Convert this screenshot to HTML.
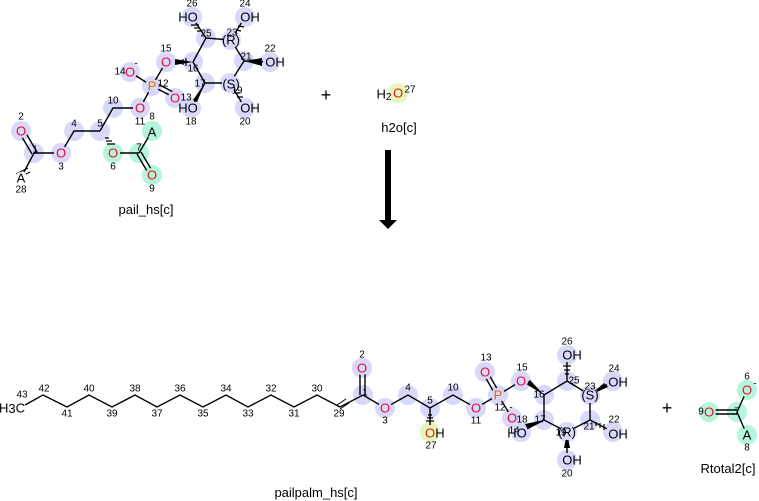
<!DOCTYPE html>
<html><head><meta charset="utf-8"><style>
html,body{margin:0;padding:0;background:#fff;}
svg{display:block;}
text{font-family:"Liberation Sans","DejaVu Sans",sans-serif;}
.a{font-size:13px;text-anchor:middle;dominant-baseline:central;}
.o{fill:#e8102a;}
.p{fill:#e07000;}
.k{fill:#000;}
.n{font-size:10px;text-anchor:middle;dominant-baseline:central;fill:#000;}
.l{font-size:13px;text-anchor:middle;fill:#000;}
</style></head><body>
<svg width="759" height="501" viewBox="0 0 759 501" xmlns="http://www.w3.org/2000/svg">
<g fill="#d8d8fb">
<circle cx="21" cy="131" r="10"/><circle cx="34" cy="153" r="10"/><circle cx="61" cy="153" r="10"/>
<circle cx="74" cy="131" r="10"/><circle cx="100" cy="131" r="10"/><circle cx="113" cy="108" r="10"/>
<circle cx="140" cy="108" r="10"/><circle cx="152" cy="86" r="10"/><circle cx="175" cy="98" r="10"/>
<circle cx="130" cy="72" r="10"/><circle cx="166" cy="62" r="10"/><circle cx="193" cy="62" r="10"/>
<circle cx="205" cy="83" r="10"/><circle cx="191" cy="108" r="10"/><circle cx="230" cy="83" r="10"/>
<circle cx="245" cy="108" r="10"/><circle cx="244" cy="61" r="10"/><circle cx="270" cy="62" r="10"/>
<circle cx="231" cy="40" r="10"/><circle cx="245" cy="17" r="10"/><circle cx="206" cy="38" r="10"/>
<circle cx="192" cy="17" r="10"/>
<circle cx="362" cy="368" r="10"/><circle cx="363" cy="395" r="10"/><circle cx="385" cy="408" r="10"/>
<circle cx="408" cy="395" r="10"/><circle cx="430" cy="408" r="10"/><circle cx="453" cy="395" r="10"/>
<circle cx="476" cy="408" r="10"/><circle cx="498" cy="395" r="10"/><circle cx="485" cy="372" r="10"/>
<circle cx="512" cy="418" r="10"/><circle cx="521" cy="381" r="10"/><circle cx="544" cy="395" r="10"/>
<circle cx="544" cy="420" r="10"/><circle cx="521" cy="432" r="10"/><circle cx="567" cy="432" r="10"/>
<circle cx="567" cy="460" r="10"/><circle cx="590" cy="420" r="10"/><circle cx="613" cy="432" r="10"/>
<circle cx="590" cy="395" r="10"/><circle cx="613" cy="381" r="10"/><circle cx="567" cy="381" r="10"/>
<circle cx="567" cy="355" r="10"/>
</g>
<g fill="#b5f5d9">
<circle cx="113" cy="153" r="10"/><circle cx="139" cy="153" r="10"/><circle cx="152" cy="131" r="10"/><circle cx="152" cy="175" r="10"/>
<circle cx="737" cy="412" r="10"/><circle cx="709" cy="412" r="10"/><circle cx="747" cy="390" r="10"/><circle cx="747" cy="435" r="10"/>
</g>
<g fill="#e6f8b8"><circle cx="398" cy="93" r="10"/><circle cx="430" cy="432" r="10"/></g>

<g stroke="#000" stroke-width="1.4" fill="none">
<path d="M34 153 L61 153 M61 153 L74 131 L100 131 M100 131 L113 108 L140 108 L152 86 M139 153 L152 131 M113 153 L139 153 M152 86 L130 72 M152 86 L166 62 M193 62 L206 38 L231 40 L244 61 L230 83 L205 83 L193 62 M205 83 L191 108 M230 83 L245 108 M244 61 L270 62 M231 40 L245 17 M206 38 L192 17 M34 153 L24 172"/>
<path d="M32 154 L19 132 M37 152 L24 130"/>
<path d="M137 154 L150 176 M141 152 L154 174"/>
<path d="M152 86 L175 98 M154 82 L177 94"/>
<path d="M25 405 L43 395 L67 407 L89 395 L112 407 L135 395 L157 407 L180 395 L203 407 L226 395 L248 407 L271 395 L294 407 L317 395 L340 407 L363 395 L385 408 L408 395 L430 408 L453 395 L476 408 L498 395 M430 408 L430 432 M498 395 L521 381 M498 395 L512 418 M544 395 L567 381 L590 395 L590 420 L567 432 L544 420 L544 395 M544 420 L521 432 M567 432 L567 460 M590 420 L613 432 M590 395 L613 381 M567 381 L567 355"/>
<path d="M360 395 L360 368 M365 395 L365 368"/>
<path d="M496 396 L483 373 M500 394 L487 371"/>
<path d="M737 412 L747 390 M737 412 L747 435 M737 410 L709 410 M737 414 L709 414"/>
</g>
<g stroke="#000" stroke-width="1"><path d="M16 174 L28 168 M18 178 L30 172 M337 405 L346 399 M340 409 L349 403"/></g>
<g fill="#000">
<polygon points="193,62 175,59 175,65"/><polygon points="244,61 262,58 262,66"/><polygon points="205,83 193,100 197,102"/>
<polygon points="544,395 526,384 530,380"/><polygon points="544,420 527,428 525,424"/><polygon points="590,395 604,383 608,387"/>
<polygon points="567,432 564,448 570,448"/>
<polygon points="385,150 391,150 391,220 397,220 388,229 379,220 385,220"/>
</g>
<g stroke="#000" stroke-width="1.2">
<path d="M105 138 L109 138 M106 141 L112 141 M107 144 L115 144 M180 60 L180 64 M183 59 L183 65 M186 58 L186 66 M201 31 L197 31 M200 28 L194 28 M199 25 L191 25 M234 34 L237 34 M236 30 L241 31 M238 26 L244 27 M233 89 L236 89 M235 93 L240 93 M237 97 L243 97
M428 415 L432 415 M427 418 L433 418 M426 421 L434 421 M565 374 L569 374 M564 370 L570 370 M563 366 L571 366 M596 422 L596 426 M600 423 L600 428 M604 424 L604 430"/>
</g>

<!-- masks over bond ends at heteroatoms -->
<g fill="#d8d8fb">
<circle cx="21" cy="131" r="7"/><circle cx="61" cy="153" r="7"/><circle cx="140" cy="108" r="7"/><circle cx="152" cy="86" r="7"/>
<circle cx="175" cy="98" r="7"/><circle cx="130" cy="72" r="7"/><circle cx="166" cy="62" r="7"/><circle cx="191" cy="108" r="7"/>
<circle cx="245" cy="108" r="7"/><circle cx="270" cy="62" r="7"/><circle cx="245" cy="17" r="7"/><circle cx="192" cy="17" r="7"/>
<circle cx="230" cy="83" r="8"/><circle cx="231" cy="40" r="8"/>
<circle cx="362" cy="368" r="7"/><circle cx="385" cy="408" r="7"/><circle cx="476" cy="408" r="7"/><circle cx="498" cy="395" r="7"/>
<circle cx="485" cy="372" r="7"/><circle cx="512" cy="418" r="7"/><circle cx="521" cy="381" r="7"/><circle cx="521" cy="432" r="7"/>
<circle cx="567" cy="460" r="7"/><circle cx="613" cy="432" r="7"/><circle cx="613" cy="381" r="7"/><circle cx="567" cy="355" r="7"/>
<circle cx="567" cy="432" r="8"/><circle cx="590" cy="395" r="8"/>
</g>
<g fill="#b5f5d9">
<circle cx="113" cy="153" r="7"/><circle cx="152" cy="131" r="7"/><circle cx="152" cy="175" r="7"/>
<circle cx="709" cy="412" r="7"/><circle cx="747" cy="390" r="7"/><circle cx="747" cy="435" r="7"/>
</g>
<g fill="#e6f8b8"><circle cx="430" cy="432" r="7"/></g>
<g fill="#fff"><circle cx="21" cy="178" r="6"/></g>

<text class="a o" x="21" y="131">O</text><text class="n" x="21" y="117">2</text>
<text class="n" x="35" y="150">1</text>
<text class="a o" x="61" y="153">O</text><text class="n" x="61" y="167">3</text>
<text class="n" x="74" y="124">4</text><text class="n" x="100" y="124">5</text>
<text class="a o" x="113" y="153">O</text><text class="n" x="113" y="167">6</text>
<text class="n" x="139" y="148">7</text>
<text class="a k" x="152" y="132">A</text><text class="n" x="152" y="117">8</text>
<text class="a o" x="152" y="175">O</text><text class="n" x="152" y="189">9</text>
<text class="a k" x="21" y="178">A</text><text class="n" x="21" y="190">28</text>
<text class="n" x="113" y="101">10</text>
<text class="a o" x="140" y="108">O</text><text class="n" x="140" y="122">11</text>
<text class="a p" x="152" y="86">P</text><text class="n" x="163" y="84">12</text>
<text class="a o" x="175" y="98">O</text><text class="n" x="186" y="98">13</text>
<text class="a o" x="130" y="72">O</text><text class="n" x="120" y="72">14</text><text class="n" x="136" y="64">-</text>
<text class="a o" x="166" y="62">O</text><text class="n" x="166" y="49">15</text>
<text class="n" x="193" y="69">16</text><text class="n" x="200" y="84">17</text>
<text class="a k" x="188" y="108">HO</text><text class="n" x="191" y="122">18</text>
<text class="a k" x="231" y="84">(S)</text><text class="n" x="237" y="91">19</text>
<text class="a k" x="250" y="108">OH</text><text class="n" x="245" y="122">20</text>
<text class="n" x="246" y="57">21</text>
<text class="a k" x="275" y="62">OH</text><text class="n" x="270" y="49">22</text>
<text class="a k" x="231" y="40">(R)</text><text class="n" x="232" y="33">23</text>
<text class="a k" x="250" y="17">OH</text><text class="n" x="245" y="4">24</text>
<text class="n" x="206" y="34">25</text>
<text class="a k" x="188" y="17">HO</text><text class="n" x="192" y="4">26</text>
<text class="l" x="146" y="214">pail_hs[c]</text>

<text class="l" style="font-size:18px" x="326" y="101">+</text>
<text class="a k" x="384" y="94">H<tspan font-size="10" dy="3">2</tspan></text>
<text class="a o" x="398" y="93">O</text><text class="n" x="410" y="90">27</text>
<text class="l" x="399" y="132">h2o[c]</text>

<text class="a k" x="12" y="408">H<tspan font-size="13">3</tspan>C</text>
<text class="n" x="22" y="395">43</text>
<text class="n" x="44" y="389">42</text><text class="n" x="67" y="414">41</text><text class="n" x="89" y="389">40</text>
<text class="n" x="112" y="414">39</text><text class="n" x="135" y="389">38</text><text class="n" x="157" y="414">37</text>
<text class="n" x="180" y="389">36</text><text class="n" x="203" y="414">35</text><text class="n" x="226" y="389">34</text>
<text class="n" x="248" y="414">33</text><text class="n" x="271" y="389">32</text><text class="n" x="294" y="414">31</text>
<text class="n" x="317" y="389">30</text><text class="n" x="339" y="414">29</text>
<text class="a o" x="362" y="368">O</text><text class="n" x="362" y="355">2</text>
<text class="n" x="365" y="393">1</text>
<text class="a o" x="385" y="408">O</text><text class="n" x="385" y="421">3</text>
<text class="n" x="408" y="388">4</text><text class="n" x="430" y="401">5</text>
<text class="a o" x="430" y="433">O</text><text class="a k" x="440" y="433">H</text><text class="n" x="431" y="446">27</text>
<text class="n" x="453" y="388">10</text>
<text class="a o" x="476" y="408">O</text><text class="n" x="476" y="421">11</text>
<text class="a p" x="498" y="395">P</text><text class="n" x="500" y="408">12</text>
<text class="a o" x="485" y="372">O</text><text class="n" x="486" y="358">13</text>
<text class="a o" x="512" y="418">O</text><text class="n" x="511" y="408">-</text><text class="n" x="514" y="431">14</text>
<text class="a o" x="521" y="381">O</text><text class="n" x="522" y="368">15</text>
<text class="n" x="539" y="395">16</text><text class="n" x="540" y="420">17</text>
<text class="a k" x="517" y="433">HO</text><text class="n" x="522" y="420">18</text>
<text class="a k" x="567" y="432">(R)</text><text class="n" x="561" y="433">19</text>
<text class="a k" x="572" y="460">OH</text><text class="n" x="567" y="474">20</text>
<text class="n" x="589" y="427">21</text>
<text class="a k" x="618" y="434">OH</text><text class="n" x="614" y="420">22</text>
<text class="a k" x="590" y="395">(S)</text><text class="n" x="590" y="387">23</text>
<text class="a k" x="618" y="382">OH</text><text class="n" x="614" y="369">24</text>
<text class="n" x="574" y="381">25</text>
<text class="a k" x="572" y="355">OH</text><text class="n" x="567" y="342">26</text>
<text class="l" x="316" y="497">pailpalm_hs[c]</text>

<text class="l" style="font-size:18px" x="667" y="414">+</text>
<text class="a o" x="709" y="412">O</text><text class="n" x="701" y="412">9</text>
<text class="n" x="737" y="412">7</text>
<text class="a o" x="747" y="390">O</text><text class="n" x="747" y="377">6</text><text class="n" x="755" y="384">-</text>
<text class="a k" x="747" y="435">A</text><text class="n" x="747" y="448">8</text>
<text class="l" x="728" y="473">Rtotal2[c]</text>
</svg>
</body></html>
